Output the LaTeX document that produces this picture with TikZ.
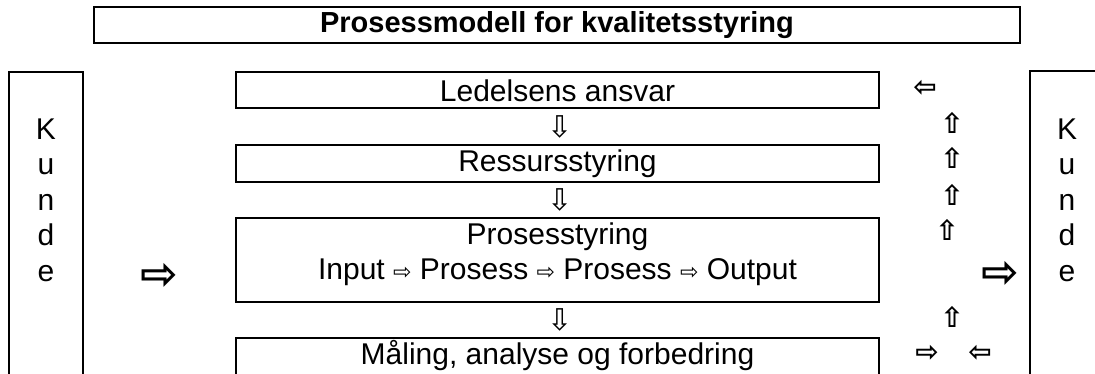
\documentclass[tikz,border=0pt]{standalone}
\usepackage{fontspec}
\setmainfont{Liberation Sans}
\newfontfamily\arrowfont{DejaVu Sans}
\newcommand{\inarr}{{\arrowfont\fontsize{22}{24}\selectfont ⇨}}
\begin{document}
\begin{tikzpicture}[x=1pt,y=-1pt,
  frame/.style={draw,line width=1.5pt},
  txt/.style={font=\fontsize{30}{34}\selectfont,inner sep=0pt},
  arr/.style={font=\arrowfont\fontsize{30}{32}\selectfont,inner sep=0pt},
  bigarr/.style={font=\arrowfont\bfseries\fontsize{45}{48}\selectfont,inner sep=0pt},
  uparr/.style={font=\arrowfont\bfseries\fontsize{28}{30}\selectfont,inner sep=0pt},
  kunde/.style={font=\fontsize{30}{35.5}\selectfont,align=center,inner sep=0pt}]
\clip (0,0) rectangle (1095,374);
\useasboundingbox (0,0) rectangle (1095,374);
% frames
\draw[frame] (94,7) rectangle (1020,43);
\draw[frame] (9,400) -- (9,72) -- (83,72) -- (83,400);
\draw[frame] (1030,400) -- (1030,71) -- (1110,71);
\draw[frame] (236,72) rectangle (879,108);
\draw[frame] (236,145) rectangle (879,182);
\draw[frame] (236,218) rectangle (879,302);
\draw[frame] (236,400) -- (236,338) -- (879,338) -- (879,400);
% texts
\node[txt,font=\bfseries\fontsize{29}{34}\selectfont] (title) at (557,25) {Prosessmodell for kvalitetsstyring};
\node[txt] (led) at (557.5,91) {Ledelsens ansvar};
\node[txt] (res) at (557.5,164) {Ressursstyring};
\node[txt] (pro) at (557.5,237) {Prosesstyring};
\node[txt] (io) at (557.5,272) {Input \inarr{} Prosess \inarr{} Prosess \inarr{} Output};
\node[txt] (mal) at (557.5,356) {Måling, analyse og forbedring};
\node[kunde] (kl) at (46,200) {K\\u\\n\\d\\e};
\node[kunde] (kr) at (1067,200) {K\\u\\n\\d\\e};
% arrows
\node[arr] (d1) at (560,127) {⇩};
\node[arr] (d2) at (560,200) {⇩};
\node[arr] (d3) at (560,320) {⇩};
\node[bigarr] (al) at (159,276) {⇨};
\node[bigarr] (ar) at (1000,274) {⇨};
\node[uparr] (l1) at (925,88) {⇦};
\node[uparr] (u1) at (952,123) {⇧};
\node[uparr] (u2) at (952,158) {⇧};
\node[uparr] (u3) at (952,195) {⇧};
\node[uparr] (u4) at (947,230) {⇧};
\node[uparr] (u5) at (952,317) {⇧};
\node[uparr] (r1) at (927,353) {⇨};
\node[uparr] (l2) at (980,353) {⇦};
\end{tikzpicture}
\end{document}
